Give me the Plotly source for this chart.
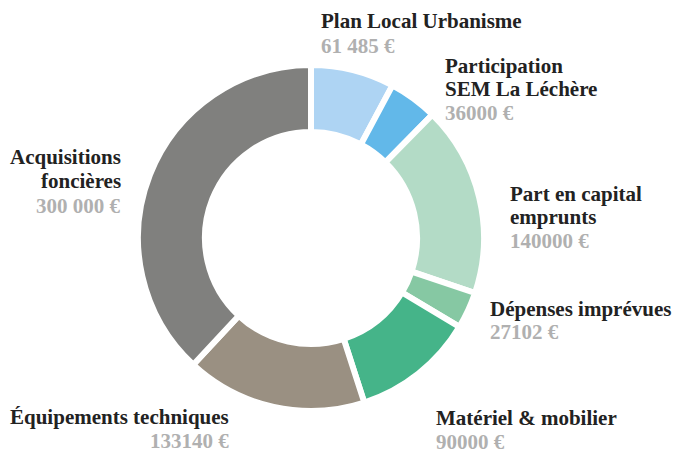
import plotly.graph_objects as go

labels = ["Plan Local Urbanisme", "Participation SEM La Léchère", "Part en capital emprunts",
          "Dépenses imprévues", "Matériel & mobilier", "Équipements techniques", "Acquisitions foncières"]
values = [61485, 36000, 140000, 27102, 90000, 133140, 300000]
value_labels = ["61 485 €", "36000 €", "140000 €", "27102 €", "90000 €", "133140 €", "300 000 €"]
label_lines = [["Plan Local Urbanisme"], ["Participation", "SEM La Léchère"], ["Part en capital", "emprunts"],
               ["Dépenses imprévues"], ["Matériel & mobilier"], ["Équipements techniques"],
               ["Acquisitions", "foncières"]]
colors = ["#aed4f3", "#62b8e9", "#b3dbc6", "#86c8a3", "#45b489", "#9a9082", "#80807e"]

W, H = 674, 453
cx, cy, R = 311, 238, 173
FS = 21

fig = go.Figure(go.Pie(
    labels=labels, values=values, sort=False, direction="clockwise", rotation=0,
    hole=0.613, textinfo="none", hoverinfo="label+value",
    marker=dict(colors=colors, line=dict(color="white", width=6)),
    domain=dict(x=[(cx - R) / W, (cx + R) / W], y=[(H - cy - R) / H, (H - cy + R) / H]),
    showlegend=False,
))

# label block placement: pixel x, baseline of first line, line step, x anchor
anchors = [(319, 27, 25, "left"), (443, 72, 23.5, "left"), (508, 200, 23.5, "left"),
           (488, 315, 23.5, "left"), (434, 424, 24, "left"), (231, 423, 24.5, "right"),
           (123, 163, 24.5, "right")]

for lines, val, (px, base, step, xa) in zip(label_lines, value_labels, anchors):
    all_lines = [(l, "#222222") for l in lines] + [(val, "#b0b0b0")]
    for i, (t, c) in enumerate(all_lines):
        b = base + i * step
        fig.add_annotation(
            x=px / W, y=1 - (b - 0.3 * FS) / H, xref="paper", yref="paper",
            xanchor=xa, yanchor="middle", align=xa, showarrow=False,
            text="<b>" + t + "</b>",
            font=dict(family="Liberation Serif, Times New Roman, serif", size=FS, color=c),
        )

fig.update_layout(
    width=W, height=H, margin=dict(l=0, r=0, t=0, b=0),
    paper_bgcolor="white", plot_bgcolor="white",
)
fig.write_html("out.html")
